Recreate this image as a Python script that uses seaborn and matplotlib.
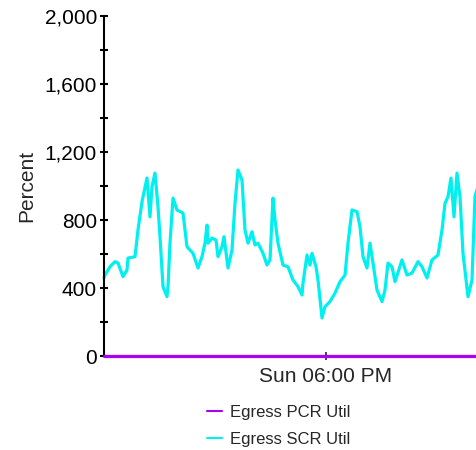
import numpy as np
import pandas as pd
import matplotlib
matplotlib.use("Agg")
import matplotlib.pyplot as plt
import matplotlib.dates as mdates
import matplotlib.ticker as mticker
import seaborn as sns

# =========================================================
# DATA (minutes after Sun 10:36 AM, values in percent)
# =========================================================
minutes = [0, 2, 12, 22, 28, 38, 46, 48, 62, 68, 76, 86, 92, 96, 102, 108, 112,
           118, 126, 128, 132, 138, 146, 158, 166, 178, 188, 196, 202, 206, 208,
           216, 224, 228, 236, 240, 248, 256, 262, 268, 276, 282, 288, 296, 302,
           308, 318, 326, 332, 338, 342, 348, 358, 368, 378, 388, 396, 398, 406,
           412, 416, 424, 428, 436, 442, 452, 462, 472, 482, 488, 496, 506, 512,
           518, 526, 532, 538, 546, 556, 562, 568, 576, 582, 596, 606, 616, 628,
           636, 646, 656, 668, 676, 682, 688, 694, 700, 706, 712, 718, 728, 736,
           742, 748]
scr_util = [460, 476, 525, 555, 547, 467, 506, 576, 584, 741, 908, 1047, 819, 996,
            1076, 878, 702, 408, 349, 408, 664, 929, 859, 841, 643, 604, 518, 584,
            664, 770, 664, 694, 682, 584, 643, 702, 518, 623, 898, 1094, 1035, 741,
            664, 731, 653, 664, 604, 535, 565, 929, 800, 664, 535, 525, 447, 408,
            359, 429, 594, 535, 604, 525, 447, 224, 290, 320, 370, 437, 476, 664,
            859, 849, 761, 584, 518, 664, 547, 388, 320, 388, 547, 525, 437, 565,
            476, 488, 555, 525, 459, 565, 594, 741, 898, 937, 1047, 819, 1076, 937,
            604, 349, 447, 937, 1000]
pcr_util = [0] * len(minutes)

series_names = ["Egress PCR Util", "Egress SCR Util"]
series_colors = ["#a800f0", "#00f0f0"]

start = pd.Timestamp("2023-01-01 10:36")
times = start + pd.to_timedelta(minutes, unit="m")

df = pd.DataFrame({
    "time": list(times) * 2,
    "value": pcr_util + scr_util,
    "series": [series_names[0]] * len(minutes) + [series_names[1]] * len(minutes),
})

# =========================================================
# PLOT
# =========================================================
sns.set_style("white")
plt.rcParams["font.family"] = ["Liberation Sans", "DejaVu Sans"]

fig = plt.figure(figsize=(4.76, 4.5), dpi=100)
ax = fig.add_axes([104 / 476, 1 - 356 / 450, 372 / 476, 340 / 450])

sns.lineplot(data=df, x="time", y="value", hue="series",
             palette=dict(zip(series_names, series_colors)),
             linewidth=2.3, ax=ax, legend=False)
for ln in ax.lines:
    ln.set_clip_on(False)
ax.lines[0].set_zorder(5)

ax.set_ylim(0, 2000)
ax.set_xlim(start, start + pd.Timedelta(minutes=744))
ax.yaxis.set_major_locator(mticker.MultipleLocator(400))
ax.yaxis.set_minor_locator(mticker.MultipleLocator(200))
ax.yaxis.set_major_formatter(mticker.FuncFormatter(lambda v, p: f"{int(v):,}"))

ax.set_xticks([pd.Timestamp("2023-01-01 18:00")])
ax.xaxis.set_major_formatter(mdates.DateFormatter("Sun %I:%M %p"))

for s in ["top", "right"]:
    ax.spines[s].set_visible(False)
for s in ["left", "bottom"]:
    ax.spines[s].set_color("black")
    ax.spines[s].set_linewidth(1.5)

ax.tick_params(axis="y", which="both", direction="inout", length=6, width=1.5,
               labelsize=15, pad=2, colors="black", left=True)
ax.tick_params(axis="x", direction="inout", length=6, width=1.2,
               labelsize=15, pad=5, bottom=True)
ax.set_xlabel("")
ax.set_ylabel("Percent", fontsize=15, labelpad=6)

handles = [plt.Line2D([], [], color=c, linewidth=1.5) for c in series_colors]
fig.legend(handles, series_names, loc="upper left",
           bbox_to_anchor=(192 / 476, 1 - 390 / 450), frameon=False,
           fontsize=12, handlelength=0.9, handletextpad=0.45, labelspacing=0.72)

fig.savefig("out.png", dpi=100)
